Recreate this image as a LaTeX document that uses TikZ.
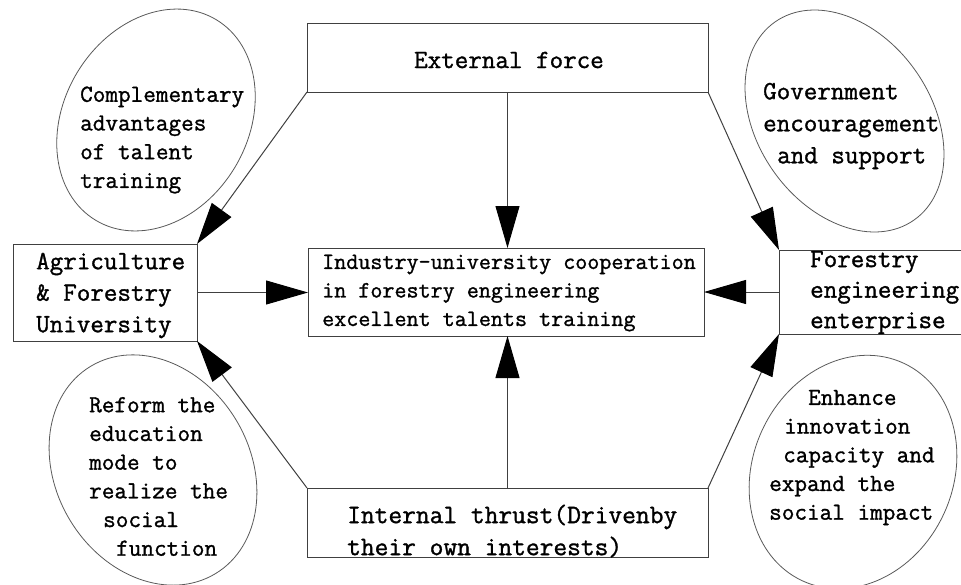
\documentclass[tikz,border=0pt]{standalone}
\usepackage{fontspec}
\setmonofont{Latin Modern Mono}[FakeBold=1.2]
\usetikzlibrary{arrows.meta}
\begin{document}
\begin{tikzpicture}[x=1pt,y=-1pt,
  box/.style={draw=black!75, line width=1pt, inner sep=0pt, outer sep=0pt},
  arr/.style={draw=black!75, line width=1pt, -{Triangle[length=42pt,width=24pt,color=black]}},
  oval/.style={draw=black!65, line width=0.8pt},
  txt/.style={inner sep=0pt, align=left, anchor=west},
  fa/.style={font=\ttfamily\fontsize{26.3pt}{31.5pt}\selectfont},
  fb/.style={font=\ttfamily\fontsize{24.5pt}{28.7pt}\selectfont}]
\useasboundingbox (0,0) rectangle (961,584);
\clip (0,0) rectangle (961,584);

% ellipses
\draw[oval, rotate around={-31:(156,120)}] (156,120) ellipse [x radius=92pt, y radius=117pt];
\draw[oval, rotate around={35:(844.5,121)}] (844.5,121) ellipse [x radius=87pt, y radius=121pt];
\draw[oval, rotate around={31:(153,470)}] (153,470) ellipse [x radius=97pt, y radius=121pt];
\draw[oval, rotate around={-25:(853,472)}] (853,472) ellipse [x radius=100pt, y radius=120pt];

% boxes
\node[box, minimum width=401pt, minimum height=69pt] (ext) at (507.5,57.5) {};
\node[box, minimum width=396pt, minimum height=88pt] (ctr) at (506,292) {};
\node[box, minimum width=184pt, minimum height=97pt] (agri) at (105,292.5) {};
\node[box, minimum width=211pt, minimum height=84pt] (fore) at (884.5,292) {};
\node[box, minimum width=401pt, minimum height=69pt] (int) at (507.5,522.5) {};

% box texts
\node[fa, inner sep=0pt] (extT) at (509,60) {External force};
\node[txt, font=\ttfamily\fontsize{23.4pt}{28.5pt}\selectfont] (ctrT) at (322,293)
  {Industry-university cooperation\\in forestry engineering\\excellent talents training};
\node[txt, fa] (agriT) at (36,295.5) {Agriculture\\\& Forestry\\University};
\node[txt, font=\ttfamily\fontsize{26.3pt}{30.5pt}\selectfont] (foreT) at (810,292.5) {Forestry\\engineering\\enterprise};
\node[txt, font=\ttfamily\fontsize{26.7pt}{32pt}\selectfont] (intT) at (347,531) {Internal thrust(Drivenby\\their own interests)};

% ellipse texts
\node[txt, fb] (tlT) at (80,140) {Complementary\\advantages\\of talent\\training};
\node[txt, font=\ttfamily\fontsize{26.3pt}{32pt}\selectfont] (trT) at (763,126) {Government\\encouragement\\\hspace*{14pt}and support};
\node[txt, fb] (blT) at (89,476.5) {Reform the\\education\\mode to\\realize the\\\hspace*{14pt}social\\\hspace*{27pt}function};
\node[txt, fb] (brT) at (769,457.5) {\hspace*{39pt}Enhance\\\hspace*{15pt}innovation\\\hspace*{14pt}capacity and\\expand the\\social impact};

% connectors
\draw[arr] (ext.south) -- (ext.south |- ctr.north);
\draw[arr] (int.north) -- (int.north |- ctr.south);
\draw[arr] (agri.east) -- (ctr.west |- agri.east);
\draw[arr] (fore.west) -- (ctr.east |- fore.west);
\draw[arr] (ext.south west) -- (agri.north east);
\draw[arr] (ext.south east) -- (fore.north west);
\draw[arr] (int.north west) -- (agri.south east);
\draw[arr] (int.north east) -- (fore.south west);
\end{tikzpicture}
\end{document}
